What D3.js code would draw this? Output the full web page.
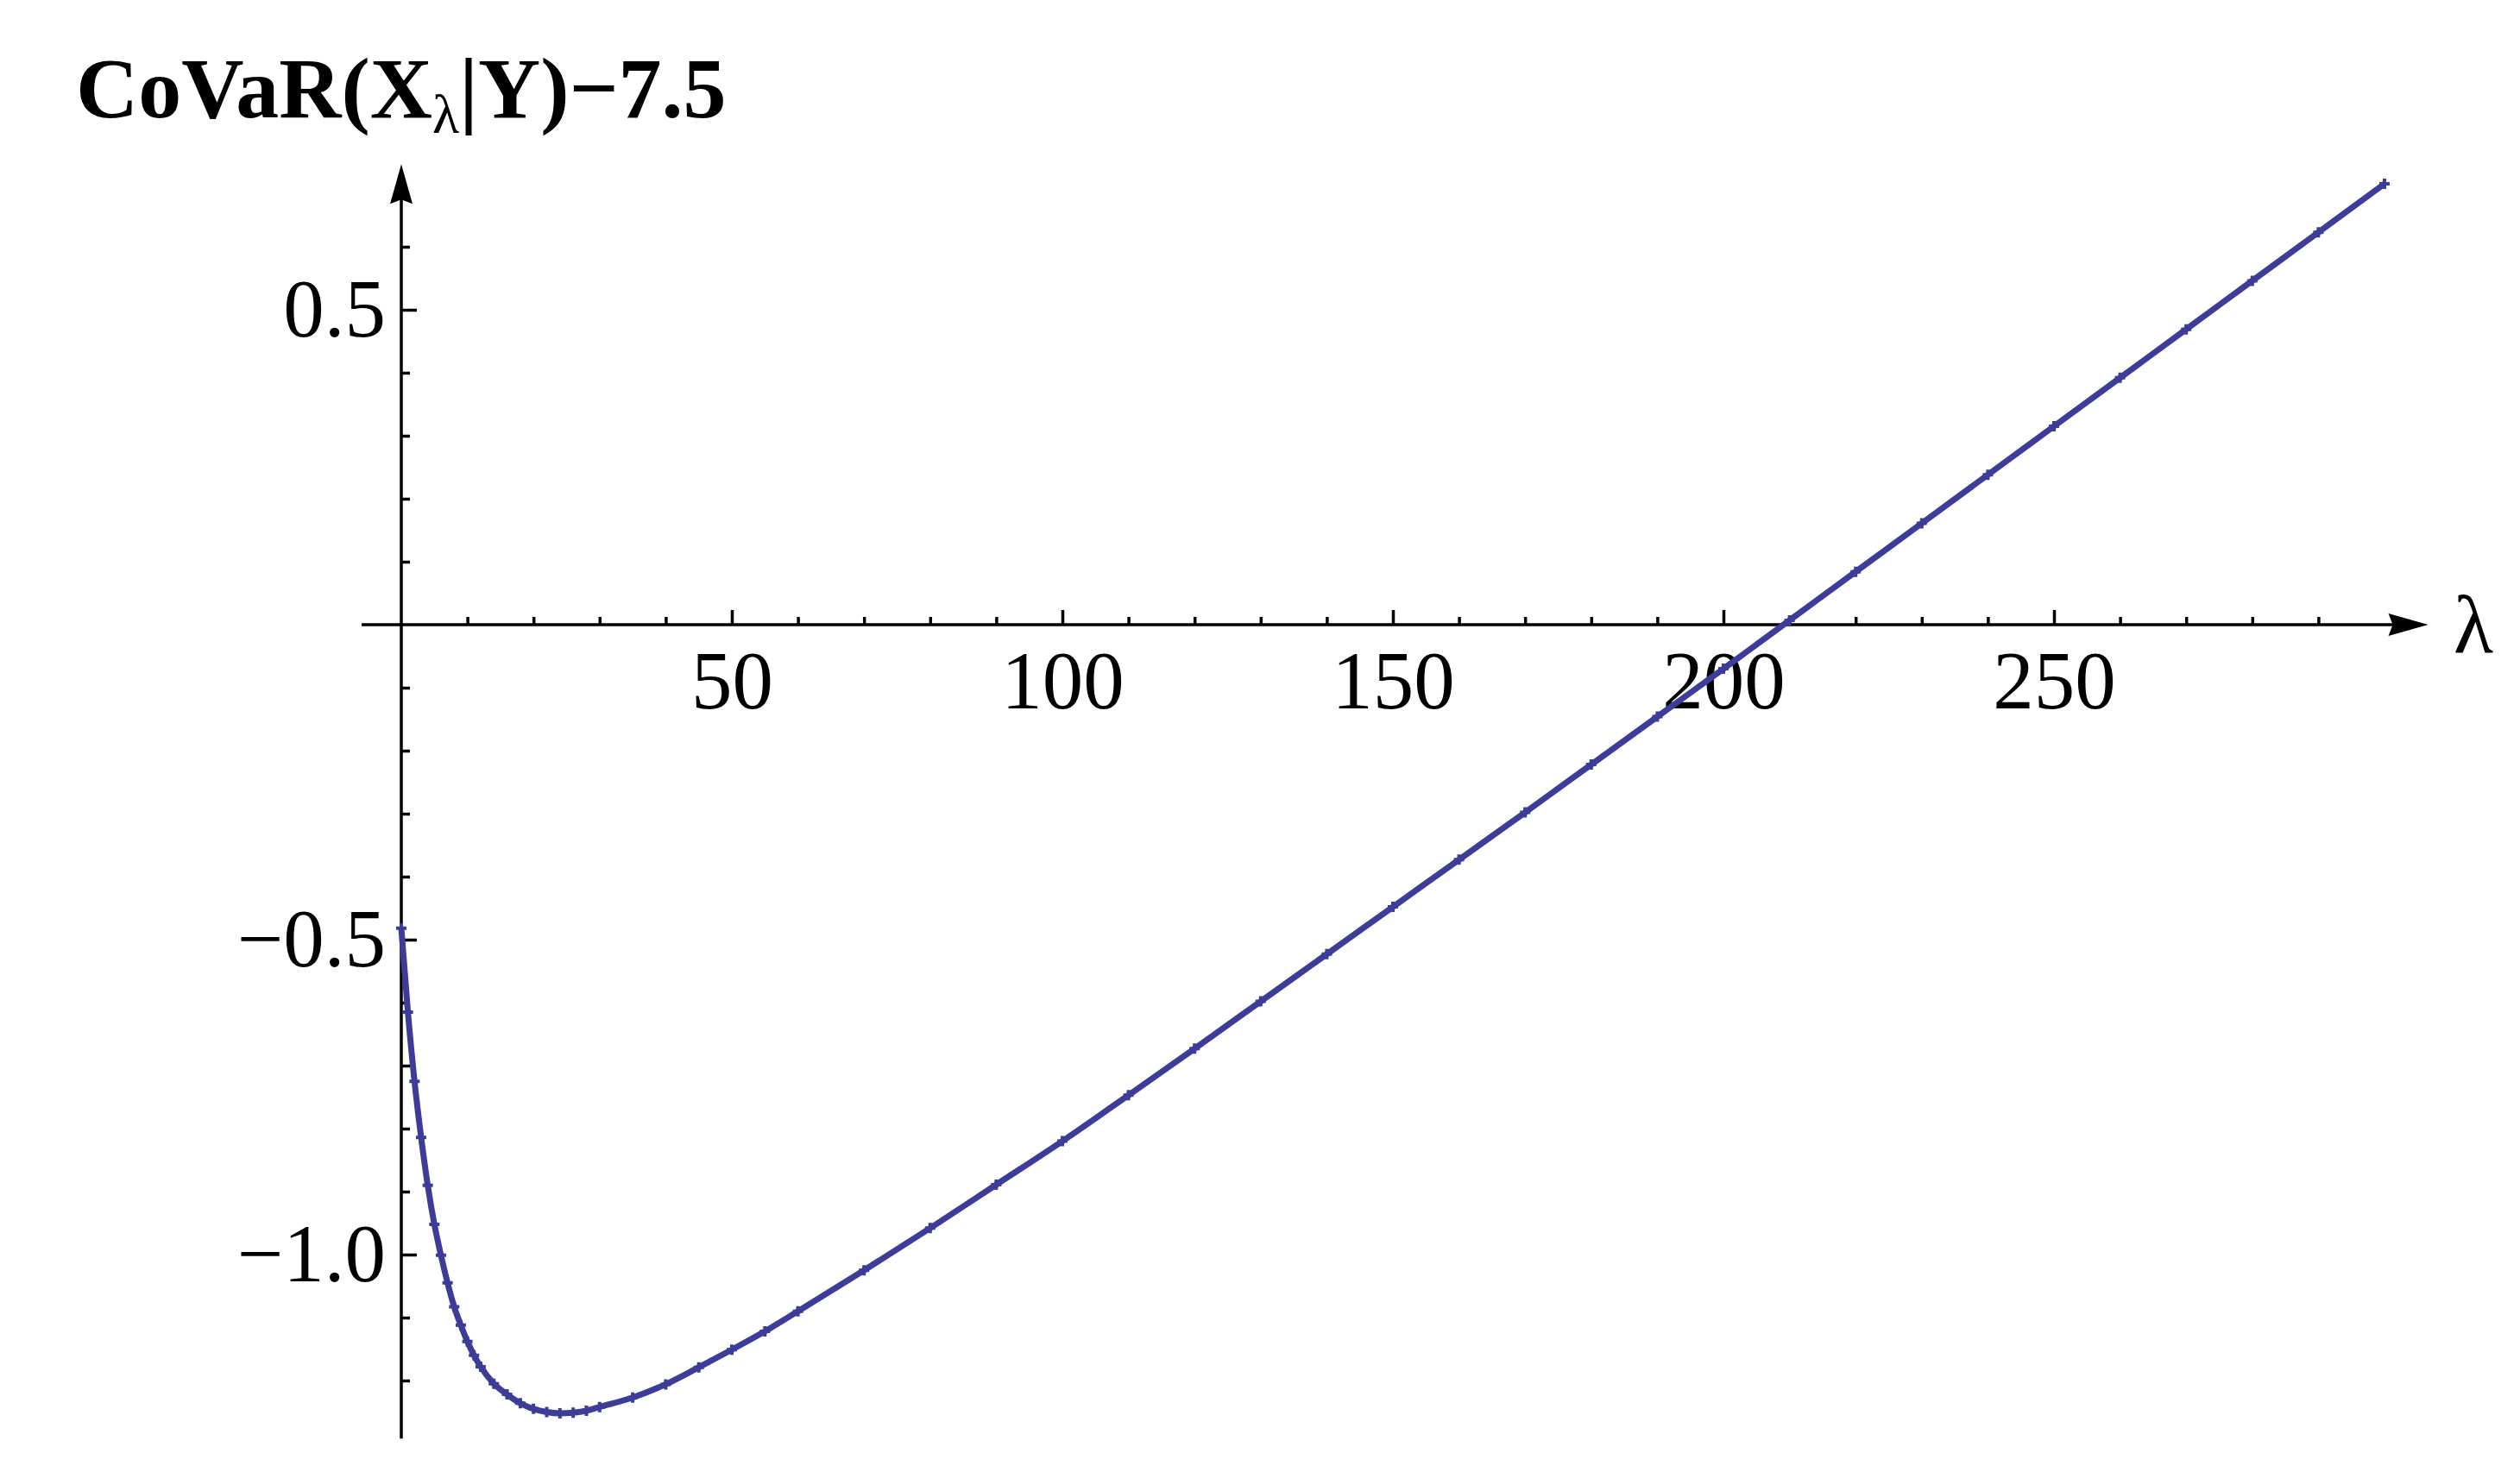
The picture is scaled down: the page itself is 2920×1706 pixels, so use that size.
<!DOCTYPE html>
<html>
<head>
<meta charset="utf-8">
<script src="https://cdn.jsdelivr.net/npm/d3@7"></script>
<style>
	body { margin: 0; background: #fff; }
	svg text { font-family: "Liberation Serif", "Times New Roman", serif; fill: #000; }
</style>
</head>
<body>
<div id="chart"></div>
<script>
// values
const lambdas = [0, 1, 2, 3, 4, 5, 6, 7, 8, 9, 10, 11, 12, 14, 16, 18, 20, 22, 24, 26, 28, 30, 35, 40, 45,
	50, 55, 60, 70, 80, 90, 100, 110, 120, 130, 140, 150, 160, 170, 180, 190, 200, 210, 220, 230, 240,
	250, 260, 270, 280, 290, 300];
const covar = [-0.482, -0.615, -0.725, -0.814, -0.890, -0.952, -1.001, -1.045, -1.083, -1.112, -1.138,
	-1.160, -1.178, -1.205, -1.222, -1.236, -1.245, -1.250, -1.252, -1.251, -1.248, -1.242, -1.227,
	-1.206, -1.179, -1.151, -1.122, -1.090, -1.025, -0.958, -0.889, -0.820, -0.747, -0.673, -0.598,
	-0.523, -0.448, -0.373, -0.298, -0.222, -0.146, -0.070, 0.007, 0.084, 0.161, 0.238, 0.315, 0.392,
	0.469, 0.546, 0.623, 0.700];

const xMajorTicks = [50, 100, 150, 200, 250];
const xMinorTicks = d3.range(10, 300, 10).filter((d) => d % 50 !== 0);
const yMajorTicks = [0.5, -0.5, -1.0];
const yMinorTicks = d3.range(-12, 7).map((d) => d / 10).filter((d) => d !== 0 && Math.abs(d * 2 - Math.round(d * 2)) > 1e-9);

const width = 2920;
const height = 1706;
const lineColor = "#3d3d99";

const svg = d3.select("#chart")
	.append("svg")
		.attr("width", width)
		.attr("height", height);

svg.append("rect")
	.attr("width", width)
	.attr("height", height)
	.attr("fill", "#fff");

// scales
const x = d3.scaleLinear()
	.domain([0, 300])
	.range([465, 2763]);
const y = d3.scaleLinear()
	.domain([-1, 0.5])
	.range([1454, 359]);

// axis lines with arrows
const arrow = (tipX, tipY, dir) => {
	const L = 46, W = 13, n = 5;
	const pts = dir === "right"
		? [[tipX, tipY], [tipX - L, tipY - W], [tipX - L + n, tipY], [tipX - L, tipY + W]]
		: [[tipX, tipY], [tipX - W, tipY + L], [tipX, tipY + L - n], [tipX + W, tipY + L]];
	svg.append("path")
		.attr("d", "M" + pts.join("L") + "Z")
		.attr("fill", "#000");
};

svg.append("line")
	.attr("x1", x(-6)).attr("x2", x(302))
	.attr("y1", y(0)).attr("y2", y(0))
	.style("stroke", "#000")
	.style("stroke-width", 3.5);
arrow(x(306.6), y(0), "right");

svg.append("line")
	.attr("x1", x(0)).attr("x2", x(0))
	.attr("y1", y(-1.292)).attr("y2", y(0.68))
	.style("stroke", "#000")
	.style("stroke-width", 3.5);
arrow(x(0), y(0.731), "up");

// ticks
const gx = svg.append("g").attr("transform", `translate(0,${y(0)})`);
gx.append("g")
	.call(d3.axisBottom(x).tickValues(xMinorTicks).tickSize(-9).tickFormat(""));
gx.append("g")
	.call(d3.axisBottom(x).tickValues(xMajorTicks).tickSize(-17).tickPadding(30));

const gy = svg.append("g").attr("transform", `translate(${x(0)},0)`);
gy.append("g")
	.call(d3.axisLeft(y).tickValues(yMinorTicks).tickSize(-10).tickFormat(""));
gy.append("g")
	.call(d3.axisLeft(y).tickValues(yMajorTicks).tickSize(-18).tickPadding(18).tickFormat(d3.format(".1f")));

svg.selectAll(".domain").remove();
svg.selectAll(".tick line")
	.style("stroke", "#000")
	.style("stroke-width", 3.5);
svg.selectAll(".tick text")
	.style("font-size", "95px")
	.style("font-family", "'Liberation Serif', 'Times New Roman', serif");

// curve
const data = lambdas.map((l, i) => ({ l: l, v: covar[i] }));
const line = d3.line()
	.x((d) => x(d.l))
	.y((d) => y(d.v))
	.curve(d3.curveMonotoneX);

svg.append("path")
	.datum(data)
	.style("fill", "none")
	.style("stroke", lineColor)
	.style("stroke-width", 7)
	.attr("d", line);

svg.append("g")
	.selectAll("path")
	.data(data)
	.join("path")
		.attr("d", (d) => {
			const cx = x(d.l), cy = y(d.v), r = 6;
			return `M${cx - r},${cy}H${cx + r}M${cx},${cy - r}V${cy + r}`;
		})
		.style("stroke", lineColor)
		.style("stroke-width", 4)
		.style("fill", "none");

// labels
const title = svg.append("text")
	.attr("x", 88)
	.attr("y", 136)
	.style("font-size", "100px")
	.style("font-weight", "bold");
title.append("tspan").text("CoVaR(X");
title.append("tspan")
	.text("λ")
	.attr("dy", 18)
	.style("font-size", "64px")
	.style("font-weight", "normal");
title.append("tspan").text("|Y)−7.5").attr("dy", -18);

svg.append("text")
	.attr("x", 2843)
	.attr("y", 756)
	.style("font-size", "95px")
	.text("λ");
</script>
</body>
</html>
